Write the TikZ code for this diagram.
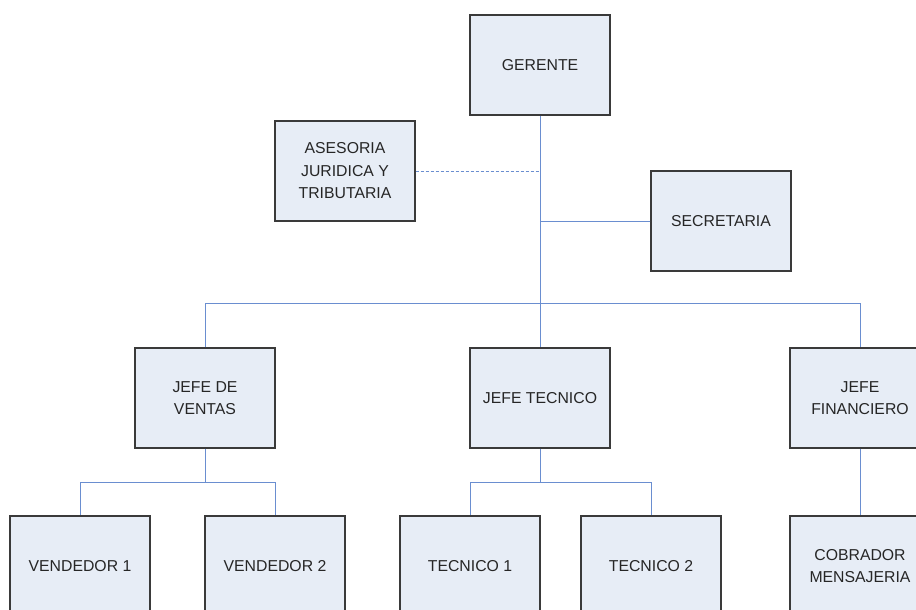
\documentclass[tikz,border=0pt]{standalone}
\usepackage{fontspec}
\setmainfont{Liberation Sans}
\begin{document}
\begin{tikzpicture}[x=1pt,y=-1pt,
  orgbox/.style={draw=boxline,fill=boxfill,line width=1.1pt,minimum width=140pt,minimum height=100pt,
    inner sep=2pt,align=center,font=\fontsize{15.8}{22.5}\selectfont,text=textcol},
  link/.style={draw=linkcol,line width=1pt}]
\definecolor{boxfill}{HTML}{E7EDF6}
\definecolor{boxline}{HTML}{3A3A3A}
\definecolor{linkcol}{HTML}{6A8ED0}
\definecolor{textcol}{HTML}{262626}
\useasboundingbox (0,0) rectangle (916,610);
\clip (0,0) rectangle (916,610);
\node[orgbox] (ger) at (540,65) {GERENTE};
\node[orgbox] (ase) at (345,171) {ASESORIA\\JURIDICA Y\\TRIBUTARIA};
\node[orgbox] (sec) at (721,221) {SECRETARIA};
\node[orgbox] (jv) at (205,398) {JEFE DE\\VENTAS};
\node[orgbox] (jt) at (540,398) {JEFE TECNICO};
\node[orgbox] (jf) at (860,398) {JEFE\\FINANCIERO};
\node[orgbox] (v1) at (80,566) {VENDEDOR 1};
\node[orgbox] (v2) at (275,566) {VENDEDOR 2};
\node[orgbox] (t1) at (470,566) {TECNICO 1};
\node[orgbox] (t2) at (651,566) {TECNICO 2};
\node[orgbox] (cob) at (860,566) {COBRADOR\\MENSAJERIA};
\coordinate (busL) at (205,303);
\coordinate (busR) at (860,303);
\draw[link] (ger.south) -- (jt.north);
\draw[link,dash pattern=on 3pt off 2pt] (ase.east) -- (ase.east -| ger.south);
\draw[link] (sec.west) -- (sec.west -| ger.south);
\draw[link] (jv.north) |- (busL) -- (busR) -- (jf.north);
\draw[link] (jv.south) -- ++(0,34) -| (v1.north);
\draw[link] (jv.south) ++(0,34) -| (v2.north);
\draw[link] (jt.south) -- ++(0,34) -| (t1.north);
\draw[link] (jt.south) ++(0,34) -| (t2.north);
\draw[link] (jf.south) -- (cob.north);
\end{tikzpicture}
\end{document}
